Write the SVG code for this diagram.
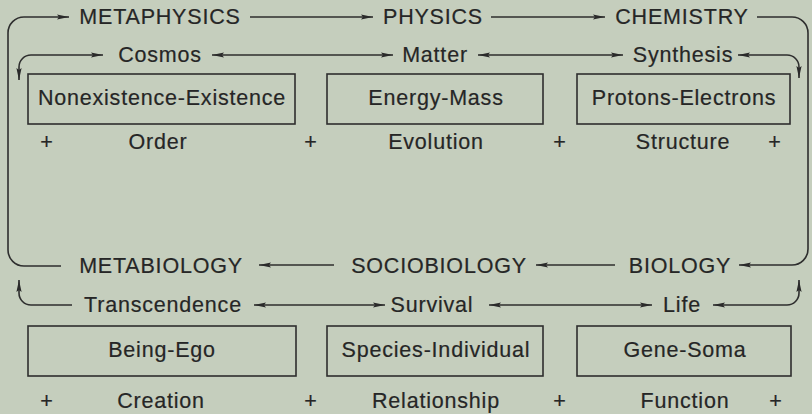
<svg xmlns="http://www.w3.org/2000/svg" width="812" height="414" viewBox="0 0 812 414">
<style>
text{font-family:"Liberation Sans",Arial,sans-serif;font-size:21.5px;letter-spacing:0.8px;fill:#262626;stroke:#262626;stroke-width:0.2;text-anchor:middle}
.box{fill:none;stroke:#2e2e2e;stroke-width:1.6}
.ln{fill:none;stroke:#2e2e2e;stroke-width:1.6}
.e{marker-end:url(#ah)}
.b{marker-start:url(#ah);marker-end:url(#ah)}
</style>
<defs>
<marker id="ah" markerUnits="userSpaceOnUse" viewBox="0 0 12 6" refX="12" refY="3" markerWidth="12" markerHeight="6" orient="auto-start-reverse">
<path d="M0,0.4 L12,3 L0,5.6 L2,3 z" fill="#2a2a2a"/>
</marker>
</defs>
<rect width="812" height="414" fill="#c5cebd"/>
<g id="connectors">
<path class="ln e" d="M61 266 H24 A16 16 0 0 1 8 250 V33 A16 16 0 0 1 24 17 H69"/>
<path class="ln e" d="M250 17 H373"/>
<path class="ln e" d="M491 17 H605"/>
<path class="ln e" d="M757 17 H792 A16 16 0 0 1 808 33 V249 A16 16 0 0 1 792 265 H739"/>
<path class="ln e" d="M615 265 H536"/>
<path class="ln e" d="M334 265 H259"/>
<path class="ln b" d="M103 55 H31 A12 12 0 0 0 19 67 V80"/>
<path class="ln b" d="M212 55 H393"/>
<path class="ln b" d="M478 55 H623"/>
<path class="ln b" d="M738 55 H787 A12 12 0 0 1 799 67 V78"/>
<path class="ln e" d="M72 305 H31 A12 12 0 0 1 19 293 V280"/>
<path class="ln b" d="M254 305 H385"/>
<path class="ln b" d="M489 305 H652"/>
<path class="ln b" d="M713 305 H787 A12 12 0 0 0 799 293 V280"/>
</g>
<g id="metaphysics"><text x="160" y="24">METAPHYSICS</text></g>
<g id="physics"><text x="433" y="24">PHYSICS</text></g>
<g id="chemistry"><text x="682" y="24">CHEMISTRY</text></g>
<g id="cosmos"><text x="160" y="62">Cosmos</text></g>
<g id="matter"><text x="435" y="62">Matter</text></g>
<g id="synthesis"><text x="683" y="62">Synthesis</text></g>
<g id="nonexistence-existence"><rect class="box" x="28" y="74" width="267" height="50"/><text x="162" y="105">Nonexistence-Existence</text></g>
<g id="energy-mass"><rect class="box" x="327" y="74" width="216" height="50"/><text x="436" y="105">Energy-Mass</text></g>
<g id="protons-electrons"><rect class="box" x="577" y="74" width="213" height="50"/><text x="684" y="105">Protons-Electrons</text></g>
<g id="row1-labels">
<text x="47" y="149">+</text>
<text x="158" y="149">Order</text>
<text x="311" y="149">+</text>
<text x="436" y="149">Evolution</text>
<text x="560" y="149">+</text>
<text x="683" y="149">Structure</text>
<text x="775" y="149">+</text>
</g>
<g id="metabiology"><text x="161" y="273">METABIOLOGY</text></g>
<g id="sociobiology"><text x="439" y="273">SOCIOBIOLOGY</text></g>
<g id="biology"><text x="680" y="273">BIOLOGY</text></g>
<g id="transcendence"><text x="163" y="312">Transcendence</text></g>
<g id="survival"><text x="432" y="312">Survival</text></g>
<g id="life"><text x="682" y="312">Life</text></g>
<g id="being-ego"><rect class="box" x="28" y="326" width="268" height="50"/><text x="162" y="357">Being-Ego</text></g>
<g id="species-individual"><rect class="box" x="327" y="326" width="216" height="50"/><text x="436" y="357">Species-Individual</text></g>
<g id="gene-soma"><rect class="box" x="577" y="326" width="214" height="50"/><text x="685" y="357">Gene-Soma</text></g>
<g id="row2-labels">
<text x="47" y="408">+</text>
<text x="161" y="408">Creation</text>
<text x="311" y="408">+</text>
<text x="436" y="408">Relationship</text>
<text x="560" y="408">+</text>
<text x="685" y="408">Function</text>
<text x="776" y="408">+</text>
</g>
</svg>
